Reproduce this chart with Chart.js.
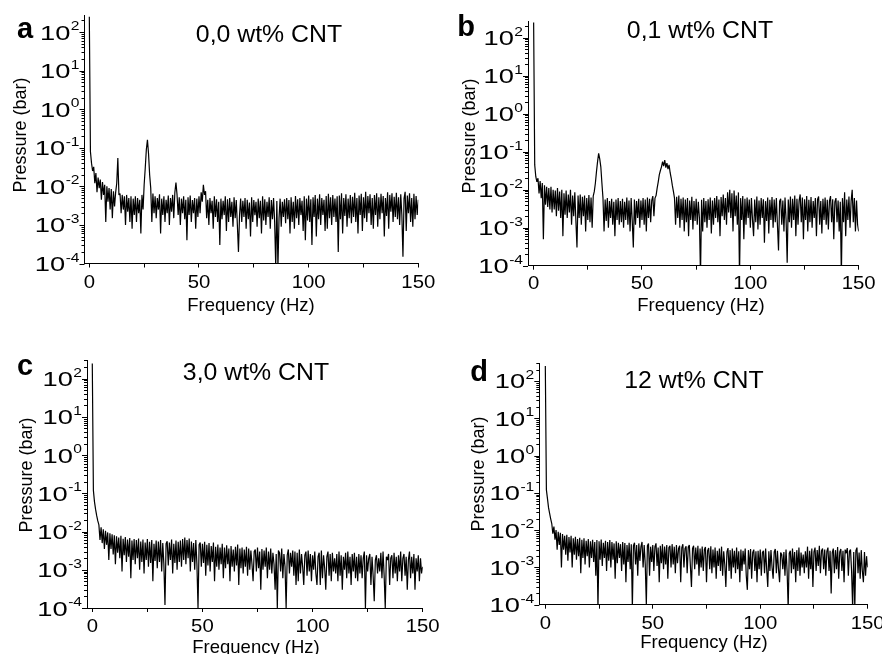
<!DOCTYPE html>
<html>
<head>
<meta charset="utf-8">
<script src="https://cdn.jsdelivr.net/npm/chart.js@4.4.1/dist/chart.umd.min.js"></script>
<style>
  html, body { margin: 0; padding: 0; background: #fff; }
  #wrap { position: relative; width: 882px; height: 654px; }
  canvas { position: absolute; }
</style>
</head>
<body>
<div id="wrap">
  <canvas id="ca" width="441" height="327" style="left:0;top:0"></canvas>
  <canvas id="cb" width="441" height="327" style="left:441px;top:0"></canvas>
  <canvas id="cc" width="441" height="327" style="left:0;top:327px"></canvas>
  <canvas id="cd" width="441" height="327" style="left:441px;top:327px"></canvas>
</div>
<script>
// spectra sampled every 0.5 Hz from 0 to 150 Hz, values in units of 1e-4 bar
const freqStep = 0.5
const unit = 1e-4

const pressA = [
  2500000, 800, 400, 250, 320, 120, 220, 70, 170, 90, 150, 45, 130, 60, 110, 12, 100, 40, 90, 25,
  85, 15, 75, 30, 70, 120, 540, 60, 65, 20, 60, 25, 55, 10, 60, 22, 50, 12, 55, 8,
  48, 18, 55, 12, 50, 20, 45, 6, 60, 25, 110, 300, 900, 1600, 700, 200, 90, 12, 65, 20,
  55, 15, 50, 25, 62, 6, 48, 18, 55, 12, 45, 20, 58, 10, 50, 22, 60, 15, 70, 125,
  60, 18, 52, 10, 48, 20, 55, 14, 45, 4, 52, 18, 58, 12, 44, 20, 50, 8, 48, 16,
  55, 20, 70, 40, 110, 60, 75, 15, 45, 10, 50, 20, 42, 8, 55, 16, 46, 12, 40, 3,
  48, 14, 42, 18, 55, 7, 46, 12, 50, 16, 40, 9, 52, 15, 44, 10, 2, 18, 48, 12,
  42, 16, 50, 8, 45, 14, 38, 5, 52, 12, 44, 18, 40, 9, 48, 15, 42, 6, 55, 13,
  46, 10, 40, 16, 52, 8, 44, 14, 50, 12, 0.8, 42, 0.8, 15, 48, 9, 40, 16, 46, 11,
  50, 14, 44, 6, 52, 12, 40, 8, 56, 15, 46, 10, 50, 18, 42, 7, 55, 4, 48, 13,
  58, 12, 46, 3, 52, 16, 60, 5, 48, 14, 62, 10, 50, 18, 45, 7, 56, 8, 64, 15,
  52, 10, 60, 16, 48, 12, 55, 2, 58, 14, 66, 6, 50, 17, 62, 9, 48, 15, 60, 11,
  54, 16, 68, 12, 50, 6, 58, 18, 64, 7, 52, 15, 72, 12, 56, 20, 62, 10, 50, 8,
  60, 18, 66, 9, 52, 14, 64, 20, 56, 5, 50, 17, 70, 8, 60, 22, 66, 12, 54, 16,
  68, 14, 52, 10, 62, 18, 1.5, 48, 72, 7, 58, 20, 66, 12, 50, 9, 64, 14, 56, 18,
  45
]

const pressB = [
  2500000, 450, 220, 160, 200, 80, 170, 60, 150, 5, 130, 40, 120, 35, 110, 30, 120, 25, 100, 30,
  95, 20, 110, 28, 90, 18, 100, 6, 80, 22, 95, 18, 75, 25, 100, 12, 70, 20, 85, 15,
  3, 70, 18, 75, 12, 65, 20, 70, 8, 60, 16, 72, 14, 62, 10, 68, 90, 150, 300, 550,
  900, 650, 400, 150, 60, 8, 55, 15, 60, 10, 50, 18, 58, 12, 48, 6, 55, 16, 60, 12,
  50, 14, 58, 10, 48, 16, 62, 12, 52, 8, 60, 15, 3, 55, 12, 50, 18, 58, 10, 52,
  16, 60, 12, 55, 8, 62, 18, 58, 14, 52, 68, 20, 60, 70, 110, 160, 250, 320, 400, 550,
  420, 600, 380, 500, 350, 450, 280, 200, 130, 90, 60, 12, 65, 18, 70, 10, 58, 16, 62, 8,
  55, 14, 60, 6, 52, 16, 65, 9, 50, 15, 58, 12, 48, 18, 0.5, 54, 8, 60, 14, 50,
  10, 56, 16, 62, 7, 52, 12, 60, 18, 68, 14, 55, 6, 64, 20, 75, 16, 60, 12, 85,
  25, 100, 18, 80, 8, 95, 20, 70, 12, 85, 0.5, 60, 16, 68, 5, 58, 12, 62, 18, 55,
  10, 60, 16, 6, 55, 14, 66, 9, 52, 12, 60, 18, 56, 4, 50, 15, 62, 7, 54, 16,
  64, 10, 55, 14, 60, 12, 2.5, 50, 58, 12, 52, 8, 62, 16, 1.2, 55, 14, 66, 10, 58,
  16, 70, 6, 58, 12, 52, 75, 14, 62, 5, 56, 16, 68, 8, 54, 14, 64, 10, 50, 18,
  60, 6, 55, 66, 12, 50, 7, 58, 16, 62, 12, 54, 9, 50, 68, 14, 56, 5, 48, 60,
  14, 52, 8, 48, 0.5, 60, 14, 85, 6, 55, 16, 66, 10, 50, 100, 14, 60, 8, 52, 12,
  8
]

const pressC = [
  2500000, 1200, 600, 380, 260, 190, 150, 60, 130, 50, 115, 35, 105, 45, 95, 18, 90, 35, 85, 25,
  80, 14, 75, 28, 70, 20, 78, 9, 65, 24, 72, 16, 62, 22, 68, 6, 58, 18, 64, 14,
  60, 20, 66, 10, 55, 16, 62, 8, 52, 18, 64, 12, 54, 15, 60, 5, 48, 17, 58, 11,
  55, 16, 60, 9, 50, 14, 1.2, 48, 56, 13, 52, 18, 62, 8, 48, 15, 58, 10, 54, 16,
  58, 12, 64, 18, 70, 14, 60, 20, 66, 9, 55, 16, 50, 10, 60, 14, 1, 45, 52, 12,
  48, 15, 54, 7, 45, 13, 50, 9, 42, 16, 52, 5, 40, 12, 46, 10, 38, 14, 48, 6,
  38, 11, 44, 14, 36, 5, 42, 12, 34, 9, 40, 13, 46, 4, 36, 11, 38, 8, 34, 12,
  40, 7, 36, 10, 32, 14, 5, 30, 34, 9, 38, 11, 30, 3, 35, 10, 32, 12, 38, 6,
  30, 10, 36, 8, 28, 14, 3, 26, 1, 32, 28, 9, 36, 6, 26, 12, 1, 24, 34, 8,
  28, 12, 32, 7, 30, 4, 28, 5, 34, 8, 26, 12, 4, 24, 30, 7, 32, 9, 26, 5,
  24, 10, 30, 8, 4, 22, 28, 4, 32, 6, 24, 11, 3, 22, 30, 7, 26, 5, 28, 9,
  20, 8, 26, 5, 30, 7, 24, 3, 22, 10, 28, 6, 30, 8, 22, 4, 26, 9, 28, 6,
  22, 5, 26, 8, 24, 6, 20, 30, 1, 24, 9, 20, 26, 4, 22, 7, 1.5, 18, 24, 8,
  20, 9, 28, 6, 30, 7, 1, 22, 18, 26, 4, 20, 24, 6, 28, 8, 22, 5, 24, 9,
  30, 5, 20, 26, 7, 22, 3, 18, 30, 6, 22, 8, 26, 3, 20, 9, 24, 5, 20, 8,
  12
]

const pressD = [
  2500000, 1200, 700, 400, 280, 200, 150, 80, 125, 55, 100, 30, 90, 40, 85, 10, 78, 30, 70, 22,
  75, 15, 65, 25, 70, 10, 60, 22, 66, 16, 58, 20, 62, 7, 55, 18, 60, 12, 52, 20,
  58, 10, 50, 18, 55, 14, 48, 6, 54, 0.8, 50, 16, 56, 11, 46, 18, 52, 8, 48, 15,
  54, 10, 48, 16, 44, 5, 50, 13, 46, 18, 42, 8, 48, 12, 45, 4, 40, 14, 46, 9,
  42, 0.8, 38, 46, 12, 40, 6, 44, 15, 36, 48, 10, 40, 12, 1, 38, 44, 6, 36, 14,
  40, 8, 36, 44, 11, 34, 4, 38, 13, 42, 9, 36, 12, 40, 5, 34, 38, 10, 42, 12,
  36, 7, 40, 13, 32, 38, 4, 34, 42, 10, 32, 37, 7, 35, 40, 11, 3, 32, 38, 9,
  34, 12, 38, 6, 32, 10, 36, 8, 30, 35, 4, 28, 33, 9, 37, 7, 30, 10, 34, 5,
  28, 11, 32, 8, 36, 6, 27, 12, 3, 26, 33, 8, 29, 5, 32, 10, 28, 7, 34, 9,
  27, 4, 30, 8, 28, 12, 32, 6, 2.5, 29, 9, 31, 5, 25, 30, 8, 27, 4, 28, 9,
  30, 6, 25, 28, 7, 32, 9, 3, 27, 8, 29, 10, 5, 26, 31, 7, 28, 9, 4, 25,
  22, 9, 26, 6, 30, 8, 0.8, 24, 28, 7, 32, 9, 26, 4, 29, 8, 34, 6, 25, 10,
  22, 7, 27, 10, 36, 5, 28, 9, 32, 3, 26, 34, 8, 29, 11, 38, 7, 28, 32, 9,
  30, 6, 27, 34, 8, 28, 2, 25, 32, 7, 29, 9, 35, 5, 26, 31, 8, 28, 4, 30,
  24, 33, 6, 27, 30, 8, 0.8, 26, 0.8, 28, 34, 7, 25, 5, 29, 8, 4, 26, 6, 20,
  10
]

const letters = ['a', 'b', 'c', 'd']
const titles = ['0,0 wt% CNT', '0,1 wt% CNT', '3,0 wt% CNT', '12 wt% CNT']
const xTicks = [0, 25, 50, 75, 100, 125, 150]
const xLabels = [0, 50, 100, 150]
const yDecades = [-4, -3, -2, -1, 0, 1, 2]
const xTitle = 'Frequency (Hz)'
const yTitle = 'Pressure (bar)'

const FONT = '"Liberation Sans", Arial, sans-serif'
const W = 441, H = 327

// per panel placement, in canvas pixels
const panels = [
  { id: 'ca', data: pressA, left: 84.5, right: 418.3, top: 15, bottom: 263.5, xmin: -2.2, ymax: 277,
    letter: [25, 38], title: [269, 42], ylab: [20, 135], xlab: [251, 305], tickY: 281 },
  { id: 'cb', data: pressB, left: 87, right: 417.7, top: 21.7, bottom: 265.7, xmin: -2.6, ymax: 264,
    letter: [25, 36], title: [259, 38], ylab: [28, 136], xlab: [260, 305], tickY: 282 },
  { id: 'cc', data: pressC, left: 87, right: 422.7, top: 33, bottom: 281, xmin: -2.4, ymax: 309,
    letter: [25, 48], title: [256, 53], ylab: [26, 148], xlab: [256, 320], tickY: 298 },
  { id: 'cd', data: pressD, left: 98.3, right: 426.7, top: 36, bottom: 277.7, xmin: -2.8, ymax: 302,
    letter: [38, 54], title: [253, 61], ylab: [37, 147], xlab: [263, 315], tickY: 295 }
]

function putText(ctx, txt, x, y, font, sx, align) {
  ctx.font = font
  const w = ctx.measureText(txt).width * sx
  const x0 = align === 'right' ? x - w : align === 'center' ? x - w / 2 : x
  ctx.save()
  ctx.translate(x0, y)
  ctx.scale(sx, 1)
  ctx.textAlign = 'left'
  ctx.textBaseline = 'alphabetic'
  ctx.fillText(txt, 0, 0)
  ctx.restore()
  return w
}

const decorations = {
  id: 'decorations',
  afterDraw(chart, args, opts) {
    const { ctx, chartArea } = chart
    const xs = chart.scales.x, ys = chart.scales.y
    const p = opts.panel
    ctx.save()
    ctx.fillStyle = '#000'
    ctx.strokeStyle = '#000'
    ctx.lineWidth = 1

    // log ticks and 10^n labels
    yDecades.forEach(d => {
      for (let m = 1; m <= 9; m++) {
        const v = m * Math.pow(10, d)
        if (v > ys.max) break
        const py = Math.round(ys.getPixelForValue(v)) + 0.5
        const len = m === 1 ? 5 : 3
        ctx.beginPath()
        ctx.moveTo(chartArea.left - len, py)
        ctx.lineTo(chartArea.left, py)
        ctx.stroke()
      }
      const py = ys.getPixelForValue(Math.pow(10, d))
      const right = chartArea.left - 5
      const ew = putText(ctx, String(d), right, py - 2, '13px ' + FONT, 1.2, 'right')
      putText(ctx, '10', right - ew - 0.5, py + 7.5, '21px ' + FONT, 1.3, 'right')
    })

    xLabels.forEach(v => {
      putText(ctx, String(v), xs.getPixelForValue(v), p.tickY + 6.6, '18.5px ' + FONT, 1.1, 'center')
    })
    putText(ctx, xTitle, p.xlab[0], p.xlab[1] + 5.5, '18.5px ' + FONT, 1, 'center')

    ctx.save()
    ctx.translate(p.ylab[0], p.ylab[1])
    ctx.rotate(-Math.PI / 2)
    putText(ctx, yTitle, 0, 5.5, '18px ' + FONT, 1, 'center')
    ctx.restore()

    putText(ctx, p.titleText, p.title[0], p.title[1], '23px ' + FONT, 1.08, 'center')
    putText(ctx, p.letterText, p.letter[0], p.letter[1], 'bold 29px ' + FONT, 1, 'center')
    ctx.restore()
  }
}

panels.forEach((p, k) => {
  p.titleText = titles[k]
  p.letterText = letters[k]
  const points = p.data.map((v, i) => ({ x: i * freqStep, y: v * unit }))
  new Chart(document.getElementById(p.id), {
    type: 'line',
    data: {
      datasets: [{
        data: points,
        borderColor: '#000',
        borderWidth: 1.2,
        borderJoinStyle: 'bevel',
        pointRadius: 0,
        tension: 0
      }]
    },
    options: {
      responsive: false,
      devicePixelRatio: 1,
      animation: false,
      parsing: false,
      normalized: true,
      layout: { padding: { left: 0, top: p.top, right: W - p.right, bottom: 0 } },
      plugins: {
        legend: { display: false },
        tooltip: { enabled: false },
        decorations: { panel: p }
      },
      scales: {
        x: {
          type: 'linear',
          min: p.xmin,
          max: 150,
          afterBuildTicks: s => { s.ticks = xTicks.map(v => ({ value: v })) },
          afterFit: s => { s.height = H - p.bottom },
          ticks: { display: false },
          grid: { display: true, drawOnChartArea: false, drawTicks: true, tickLength: 4, color: '#000', lineWidth: 1 },
          border: { display: true, color: '#000', width: 1 }
        },
        y: {
          type: 'logarithmic',
          min: 1e-4,
          max: p.ymax,
          afterFit: s => { s.width = p.left },
          ticks: { display: false },
          grid: { display: false },
          border: { display: true, color: '#000', width: 1 }
        }
      }
    },
    plugins: [decorations]
  })
})
</script>
</body>
</html>
